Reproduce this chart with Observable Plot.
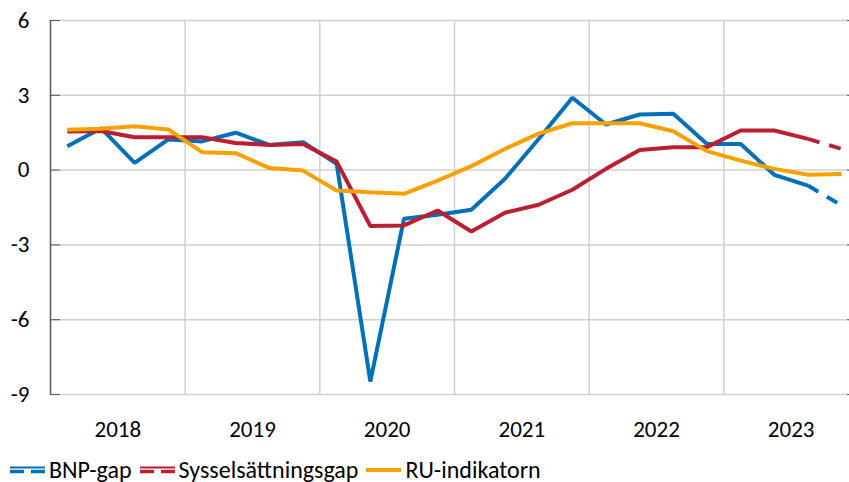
<!DOCTYPE html>
<html>
<head>
<meta charset="utf-8">
<script src="https://cdn.jsdelivr.net/npm/d3@7"></script>
<script src="https://cdn.jsdelivr.net/npm/@observablehq/plot@0.6"></script>
<style>
  html, body { margin: 0; padding: 0; background: #fff; overflow: hidden; }
  #chart { width: 849px; }
  .legend { display: flex; align-items: center; margin-top: 2px; padding-left: 10px;
            font-family: Carlito, Lato, "Open Sans", sans-serif; font-size: 24px; color: #000; line-height: 26px; white-space: nowrap; }
  .legend .item { display: flex; align-items: center; margin-right: 8px; }
  .legend svg { margin-right: 4px; }
</style>
</head>
<body>
<div id="chart"></div>
<script>
const years = [2018, 2019, 2020, 2021, 2022, 2023];
const quartersPerYear = [1, 2, 3, 4];
const yTicks = [-9, -6, -3, 0, 3, 6];
const seriesNames = ["BNP-gap", "Sysselsättningsgap", "RU-indikatorn"];
const seriesColors = ["#0070B8", "#BA1F31", "#F7A000"];
const forecastStart = 22; // index of last outcome point; dashed afterwards (BNP-gap, Sysselsättningsgap)

const bnpGap = [0.96, 1.68, 0.29, 1.23, 1.15, 1.50, 1.01, 1.12, 0.25, -8.48, -1.95, -1.79,
                -1.59, -0.35, 1.25, 2.90, 1.83, 2.23, 2.26, 1.05, 1.05, -0.19, -0.62, -1.42];
const sysselGap = [1.55, 1.57, 1.32, 1.32, 1.32, 1.09, 1.01, 1.05, 0.34, -2.24, -2.22, -1.62,
                   -2.46, -1.71, -1.39, -0.79, 0.05, 0.81, 0.92, 0.92, 1.59, 1.59, 1.25, 0.85];
const ruIndikator = [1.62, 1.66, 1.76, 1.63, 0.72, 0.68, 0.08, -0.02, -0.82, -0.89, -0.95, -0.42,
                     0.16, 0.85, 1.46, 1.88, 1.88, 1.88, 1.56, 0.76, 0.38, 0.05, -0.19, -0.16];

const times = years.flatMap(y => quartersPerYear.map(q => y + (q - 0.5) / 4));
const allSeries = [bnpGap, sysselGap, ruIndikator];
const rows = allSeries.flatMap((vals, s) => vals.map((v, i) => ({series: seriesNames[s], i, t: times[i], v})));
const solidRows = rows.filter(d => d.series === "RU-indikatorn" || d.i <= forecastStart);
const dashRows = rows.filter(d => d.series !== "RU-indikatorn" && d.i >= forecastStart);

const font = "Carlito, Lato, 'Open Sans', sans-serif";

const plot = Plot.plot({
  width: 849,
  height: 455,
  marginTop: 20,
  marginBottom: 61,
  marginLeft: 50,
  marginRight: 0,
  style: {fontFamily: font, fontSize: "23px", color: "#000", background: "#fff"},
  x: {domain: [2018, 2024], range: [50, 858], label: null},
  y: {domain: [-9, 6], label: null},
  color: {domain: seriesNames, range: seriesColors},
  marks: [
    Plot.ruleY(yTicks, {stroke: "#d0d0d0", strokeWidth: 1.5}),
    Plot.ruleX(years.slice(1), {stroke: "#d0d0d0", strokeWidth: 1.5}),
    Plot.ruleX([2018], {stroke: "#595959", strokeWidth: 1.5}),
    Plot.axisY({ticks: yTicks, label: null, tickSize: -10, tickPadding: 31, stroke: "#595959", fill: "#000", fontSize: 23, tickFormat: d => String(d)}),
    Plot.axisY({anchor: "right", label: null, ticks: yTicks, tickSize: -3, tickFormat: () => "", stroke: "#595959"}),
    Plot.axisX({ticks: years.map(y => y + 0.5), label: null, tickSize: 0, tickPadding: 26, tickFormat: d => String(Math.floor(d)), fontSize: 23, fill: "#000"}),
    Plot.line(solidRows, {x: "t", y: "v", z: "series", stroke: "series", strokeWidth: 4, strokeLinejoin: "miter", strokeLinecap: "butt"}),
    Plot.line(dashRows, {x: "t", y: "v", z: "series", stroke: "series", strokeWidth: 4, strokeDasharray: "12,10", strokeLinecap: "butt"})
  ]
});
document.getElementById("chart").appendChild(plot);

// Legend
const legend = document.createElement("div");
legend.className = "legend";
seriesNames.forEach((name, s) => {
  const item = document.createElement("div");
  item.className = "item";
  const dashed = name !== "RU-indikatorn";
  const sym = dashed
    ? `<svg width="35" height="10"><line x1="0" x2="35" y1="2.5" y2="2.5" stroke="${seriesColors[s]}" stroke-width="2"/><line x1="0" x2="35" y1="6.5" y2="6.5" stroke="${seriesColors[s]}" stroke-width="3.5" stroke-dasharray="14,7"/></svg>`
    : `<svg width="35" height="10"><line x1="0" x2="35" y1="5" y2="5" stroke="${seriesColors[s]}" stroke-width="4"/></svg>`;
  item.innerHTML = sym + `<span>${name}</span>`;
  legend.appendChild(item);
});
document.getElementById("chart").appendChild(legend);
</script>
</body>
</html>
